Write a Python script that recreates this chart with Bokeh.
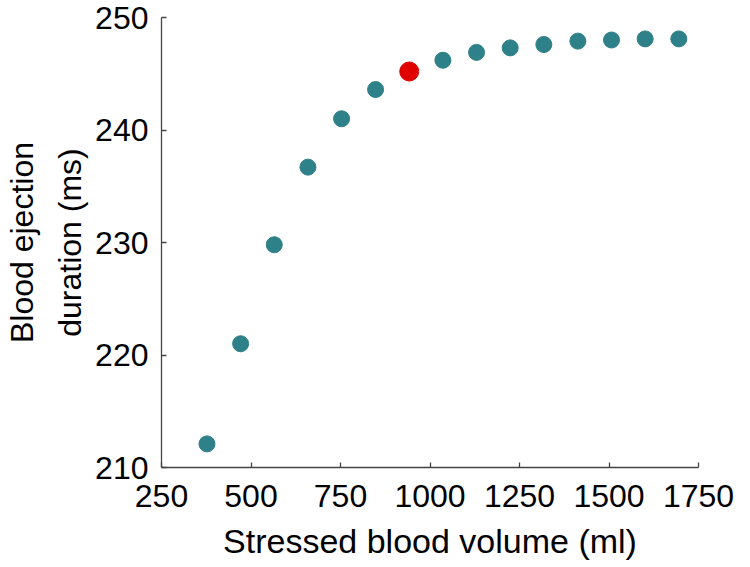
from bokeh.plotting import figure
from bokeh.models import Range1d, FixedTicker
from bokeh.embed import file_html
from bokeh.resources import INLINE

# Data
volume_ml = [377, 471, 565, 659, 753, 848, 942, 1036, 1130, 1224, 1318, 1413, 1507, 1601, 1695]
ejection_ms = [212.1, 221.0, 229.8, 236.7, 241.0, 243.6, 245.2, 246.2, 246.9, 247.3,
               247.6, 247.9, 248.0, 248.1, 248.1]
highlight_index = 6
x_ticks = [250, 500, 750, 1000, 1250, 1500, 1750]
y_ticks = [210, 220, 230, 240, 250]

teal = "#2f8189"
red = "#e00000"
font = "Liberation Sans"

p = figure(width=734, height=562, output_backend="svg", toolbar_location=None,
           x_range=Range1d(250, 1750), y_range=Range1d(210, 250),
           min_border_left=150, min_border_right=36, min_border_top=17, min_border_bottom=93)
p.outline_line_color = None
p.xgrid.visible = False
p.ygrid.visible = False
p.background_fill_color = "white"
p.border_fill_color = "white"

normal_x = [v for i, v in enumerate(volume_ml) if i != highlight_index]
normal_y = [v for i, v in enumerate(ejection_ms) if i != highlight_index]
p.scatter(normal_x, normal_y, size=16, fill_color=teal, line_color=teal)
p.scatter([volume_ml[highlight_index]], [ejection_ms[highlight_index]], size=19,
          fill_color=red, line_color=red)

for ax in (p.xaxis[0], p.yaxis[0]):
    ax.axis_line_color = "#444444"
    ax.axis_line_width = 1.3
    ax.major_tick_line_color = "#444444"
    ax.major_tick_line_width = 1.3
    ax.major_tick_in = 5
    ax.major_tick_out = 0
    ax.minor_tick_line_color = None
    ax.major_label_text_font = font
    ax.major_label_text_font_size = "32px"
    ax.major_label_text_color = "black"
    ax.axis_label_text_font = font
    ax.axis_label_text_font_style = "normal"
    ax.axis_label_text_color = "black"

p.xaxis.ticker = FixedTicker(ticks=x_ticks)
p.yaxis.ticker = FixedTicker(ticks=y_ticks)
p.xaxis.major_label_standoff = 17
p.yaxis.major_label_standoff = 13
p.xaxis.axis_label = "Stressed blood volume (ml)"
p.xaxis.axis_label_text_font_size = "34px"
p.xaxis.axis_label_standoff = 12
p.yaxis.axis_label = "Blood ejection\nduration (ms)"
p.yaxis.axis_label_text_font_size = "32px"
p.yaxis.axis_label_standoff = 4
p.yaxis.axis_label_text_line_height = 1.35

open("out.html", "w").write(file_html(p, INLINE))
